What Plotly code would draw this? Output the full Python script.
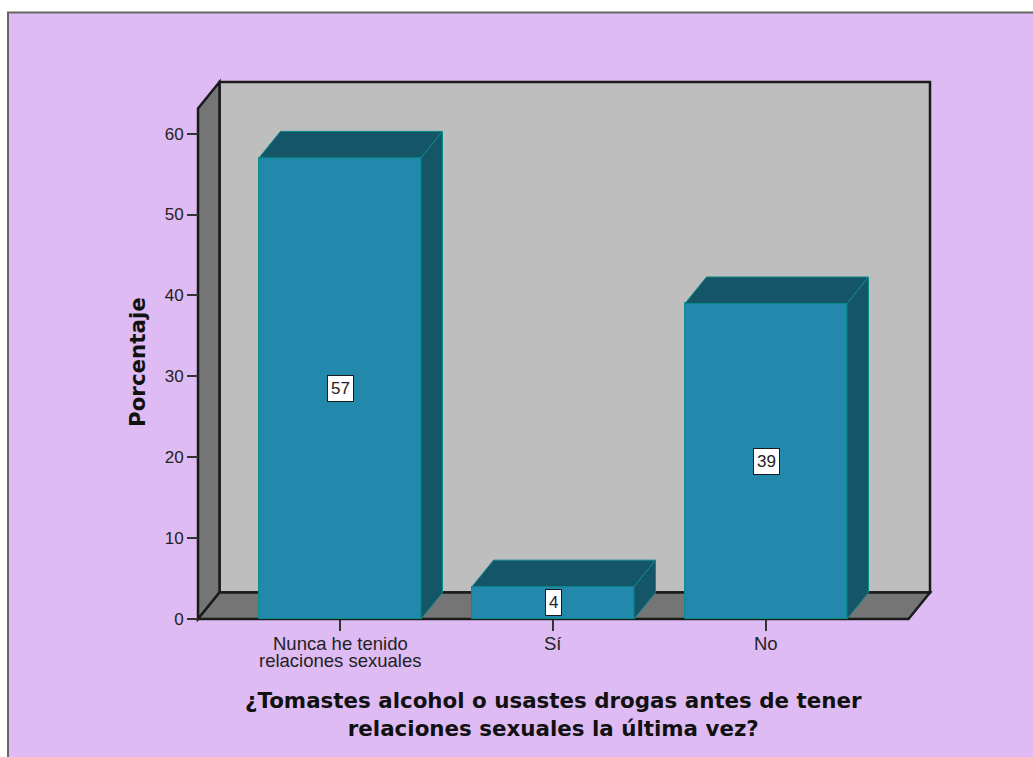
import plotly.graph_objects as go

# --- data ---
categories = ["Nunca he tenido<br>relaciones sexuales", "Sí", "No"]
values = [57, 4, 39]
y_ticks = [0, 10, 20, 30, 40, 50, 60]
y_title = "Porcentaje"
x_title = "¿Tomastes alcohol o usastes drogas antes de tener<br>relaciones sexuales la última vez?"
heading = "0024"

# --- pixel layout ---
W, H = 1033, 757
L, R, T, B = 198, 930, 82, 619   # extent of the 3D box
M = 4                            # spare room so that the box outline is not clipped
PL, PR, PT, PB = L - M, R + M, T - M, B + M   # plot area
PX_X = 213.0       # px per category
PX_Y = 8.09        # px per percent
X0 = (340 - L) / PX_X
xa = -X0
xe = xa + (R - L) / PX_X
ye = (B - T) / PX_Y
xr = [xa - M / PX_X, xe + M / PX_X]
yr = [-M / PX_Y, ye + M / PX_Y]
dx = 21.5 / PX_X   # 3D depth, in data units
dy = 26.5 / PX_Y
bw = 162 / PX_X
xb = xe - dx       # right end of the front floor edge
ytop = ye - dy     # top of the left wall

PURPLE, WALL, SIDE = "#DFBBF3", "#BEBEBE", "#757575"
FRONT, DARK, EDGE = "#2389AC", "#155568", "#0B8A8A"
LINE = "#1A1A1A"
TEXT = "#222222"

xs = list(range(len(categories)))
fig = go.Figure()

def fx(p): return (p - PL) / (PR - PL)
def fy(p): return (PB - p) / (PB - PT)

def wall(px, py, fill):
    path = "M " + " L ".join(f"{a},{b}" for a, b in zip(px, py)) + " Z"
    return dict(type="path", path=path, xref="x", yref="y", fillcolor=fill,
                line=dict(color=LINE, width=2.5), layer="below")

shapes = [
    dict(type="rect", xref="paper", yref="paper", x0=fx(8), x1=fx(1050), y0=fy(780), y1=fy(12.5),
         fillcolor=PURPLE, line=dict(color="#666666", width=2), layer="below"),
    wall([xa + dx, xb + dx, xb + dx, xa + dx], [dy, dy, ye, ye], WALL),
    wall([xa, xa + dx, xa + dx, xa], [0, dy, ye, ytop], SIDE),
    wall([xa, xb, xb + dx, xa + dx], [0, 0, dy, dy], SIDE),
]

# front faces
fig.add_trace(go.Bar(x=xs, y=values, width=bw, marker=dict(color=FRONT, line=dict(color=EDGE, width=1)),
                     showlegend=False, hoverinfo="skip"))

# top and side faces, derived from the values
def poly(px, py):
    fig.add_trace(go.Scatter(x=px, y=py, mode="lines", fill="toself", fillcolor=DARK,
                             line=dict(color=EDGE, width=1), hoverinfo="skip",
                             showlegend=False, cliponaxis=False))

for x, v in zip(xs, values):
    l, r = x - bw / 2, x + bw / 2
    poly([l, r, r + dx, l + dx, l], [v, v, v + dy, v + dy, v])
    poly([r, r + dx, r + dx, r, r], [0, dy, v + dy, v, 0])

annotations = [dict(x=x, y=v / 2, text=str(v), showarrow=False, bgcolor="white", bordercolor=LINE,
                    borderwidth=1, borderpad=3, font=dict(family="Liberation Sans", size=17, color=TEXT))
               for x, v in zip(xs, values)]

# category labels, one annotation per line for the tight line spacing
for x, cat in zip(xs, categories):
    for i, part in enumerate(cat.split("<br>")):
        annotations.append(dict(x=x, xref="x", yref="paper", y=fy(643 + i * 17), yanchor="middle", text=part,
                                showarrow=False, font=dict(family="Liberation Sans", size=18.5, color=TEXT)))

title_font = dict(family="DejaVu Sans", size=21.4, weight="bold", color="#111111")
annotations += [
    dict(xref="paper", yref="paper", x=fx(553.5), y=fy(714), xanchor="center", yanchor="middle", text=x_title,
         showarrow=False, font=title_font),
    dict(xref="paper", yref="paper", x=fx(137), y=fy(362), xanchor="center", yanchor="middle", text=y_title,
         showarrow=False, textangle=-90, font=title_font),
    dict(xref="paper", yref="paper", x=fx(525), y=fy(-5), xanchor="center", yanchor="middle", text=heading,
         showarrow=False, font=dict(family="Liberation Sans", size=17, color=TEXT)),
]

fig.update_layout(
    width=W, height=H, autosize=False, bargap=0,
    margin=dict(l=PL, r=W - PR, t=PT, b=H - PB),
    paper_bgcolor="white", plot_bgcolor="rgba(0,0,0,0)",
    shapes=shapes, annotations=annotations,
    font=dict(family="Liberation Sans", color=TEXT),
    xaxis=dict(range=xr, tickmode="array", tickvals=xs, ticktext=[""] * len(xs), ticks="outside",
               ticklen=11, tickwidth=2, tickcolor="#333333", showgrid=False, zeroline=False,
               anchor="free", position=fy(B)),
    yaxis=dict(range=yr, tickmode="array", tickvals=y_ticks, ticks="outside", ticklen=11, tickwidth=2,
               tickcolor="#333333", showgrid=False, zeroline=False, tickfont=dict(size=17),
               anchor="free", position=fx(L)),
)
fig.write_html("out.html", config=dict(displayModeBar=False), post_script="document.body.style.margin='0';")
